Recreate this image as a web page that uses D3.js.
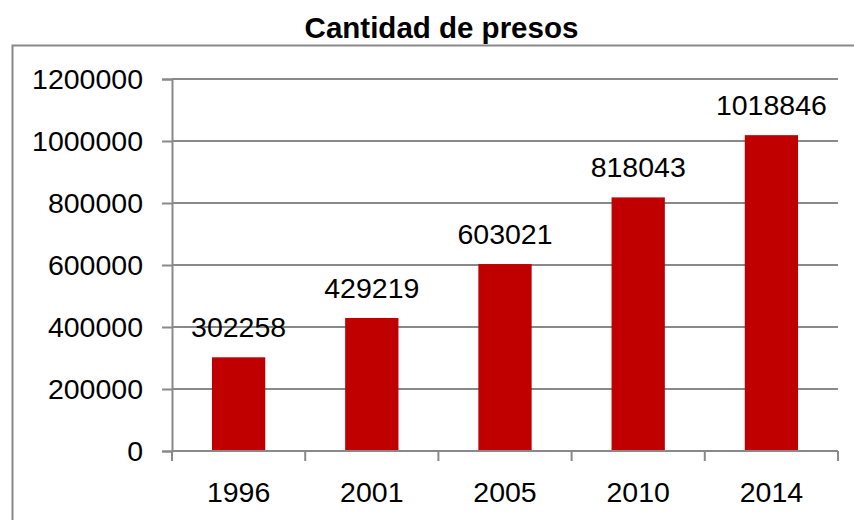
<!DOCTYPE html>
<html>
<head>
<meta charset="utf-8">
<script src="https://cdn.jsdelivr.net/npm/d3@7"></script>
<style>
  html, body { margin: 0; padding: 0; background: #fff; }
  svg { display: block; }
</style>
</head>
<body>
<svg id="chart" width="854" height="520"></svg>
<script>
const title = "Cantidad de presos";
const categories = ["1996", "2001", "2005", "2010", "2014"];
const values = [302258, 429219, 603021, 818043, 1018846];
const yTicks = [0, 200000, 400000, 600000, 800000, 1000000, 1200000];

const W = 854, H = 520;
const plot = { left: 172, right: 838, top: 79, bottom: 451 };
const font = "'Liberation Sans', Arial, sans-serif";
const gridColor = "#898989";
const barColor = "#C00000";

const svg = d3.select("#chart");

// outer frame (cropped at right and bottom)
svg.append("rect")
  .attr("x", 12.5).attr("y", 45.5)
  .attr("width", W + 10).attr("height", H + 10)
  .attr("fill", "none").attr("stroke", gridColor).attr("stroke-width", 2);

svg.append("text")
  .attr("x", 441.5).attr("y", 38)
  .attr("text-anchor", "middle")
  .attr("font-family", font).attr("font-weight", "bold").attr("font-size", 29.5)
  .attr("fill", "#000")
  .text(title);

const x = d3.scaleBand().domain(categories).range([plot.left, plot.right]).paddingInner(0.6).paddingOuter(0.3);
const xb = d3.scaleBand().domain(categories).range([plot.left, plot.right]);
const y = d3.scaleLinear().domain([0, 1200000]).range([plot.bottom, plot.top]);

// gridlines
svg.append("g").selectAll("line").data(yTicks.filter(d => d > 0)).join("line")
  .attr("x1", plot.left).attr("x2", plot.right)
  .attr("y1", d => y(d)).attr("y2", d => y(d))
  .attr("stroke", gridColor).attr("stroke-width", 2);

// y axis
const yAxis = svg.append("g").attr("transform", `translate(${plot.left},0)`)
  .call(d3.axisLeft(y).tickValues(yTicks).tickSize(10).tickPadding(19).tickFormat(d3.format("d")));
yAxis.select(".domain").attr("stroke", gridColor).attr("stroke-width", 2);
yAxis.selectAll(".tick line").attr("stroke", gridColor).attr("stroke-width", 2);
yAxis.selectAll("text").attr("font-family", font).attr("font-size", 28.5).attr("fill", "#000")
  .attr("dy", "0.35em");

// bars
svg.append("g").selectAll("rect").data(values).join("rect")
  .attr("x", (d, i) => x(categories[i]))
  .attr("width", x.bandwidth())
  .attr("y", d => y(d))
  .attr("height", d => y(0) - y(d))
  .attr("fill", barColor);

// x axis
const xAxisG = svg.append("g").attr("transform", `translate(0,${plot.bottom})`);
xAxisG.append("line").attr("x1", plot.left).attr("x2", plot.right)
  .attr("stroke", gridColor).attr("stroke-width", 2);
const bounds = categories.map(c => xb(c)).concat([plot.right]);
xAxisG.selectAll("line.tk").data(bounds).join("line").attr("class", "tk")
  .attr("x1", d => d).attr("x2", d => d).attr("y1", 0).attr("y2", 10)
  .attr("stroke", gridColor).attr("stroke-width", 2);
xAxisG.selectAll("text").data(categories).join("text")
  .attr("x", d => xb(d) + xb.bandwidth() / 2).attr("y", 50.5)
  .attr("text-anchor", "middle")
  .attr("font-family", font).attr("font-size", 28.5).attr("fill", "#000")
  .text(d => d);

// value labels
svg.append("g").selectAll("text").data(values).join("text")
  .attr("x", (d, i) => x(categories[i]) + x.bandwidth() / 2)
  .attr("y", d => y(d) - 20)
  .attr("text-anchor", "middle")
  .attr("font-family", font).attr("font-size", 28.5).attr("fill", "#000")
  .text(d => d);
</script>
</body>
</html>
